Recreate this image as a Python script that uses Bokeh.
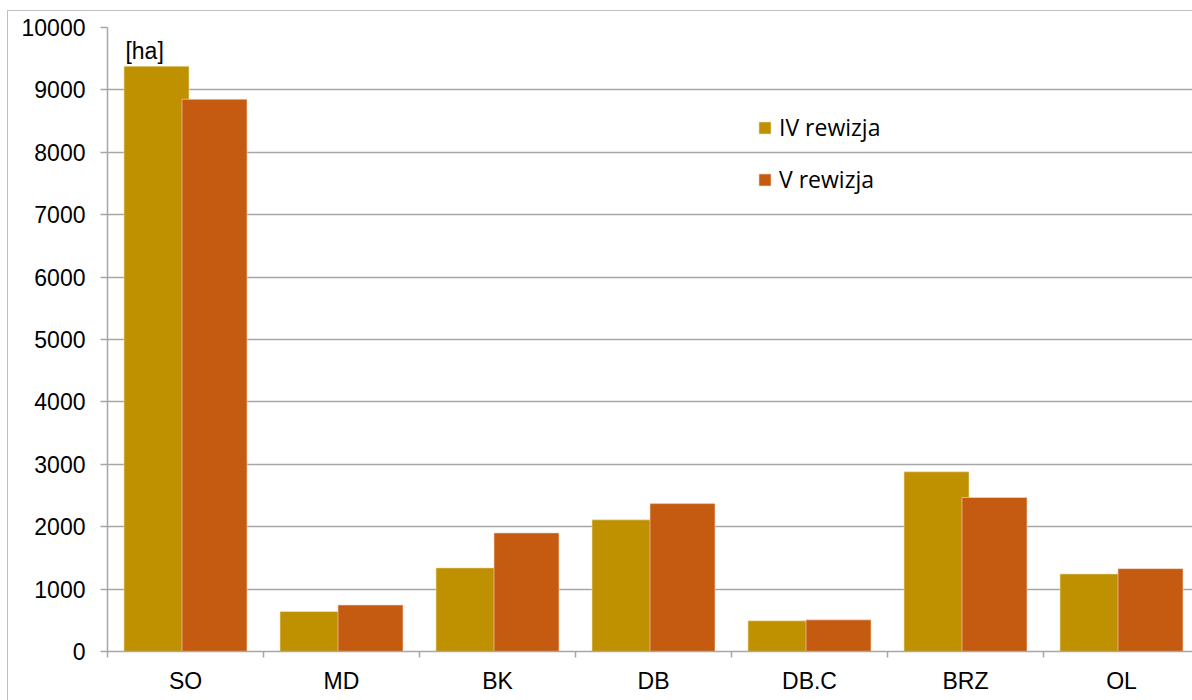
from bokeh.plotting import figure
from bokeh.models import (ColumnDataSource, FixedTicker, Legend, LegendItem,
                          Label, Range1d)
from bokeh.embed import file_html
from bokeh.resources import INLINE
from bokeh.transform import dodge

categories = ["SO", "MD", "BK", "DB", "DB.C", "BRZ", "OL"]
rewizja_iv = [9380, 640, 1340, 2110, 492, 2880, 1243]
rewizja_v = [8850, 745, 1900, 2370, 507, 2468, 1328]
y_ticks = [0, 1000, 2000, 3000, 4000, 5000, 6000, 7000, 8000, 9000, 10000]
series_names = ["IV rewizja", "V rewizja"]
unit_label = "[ha]"

GOLD = "#BF9000"
ORANGE = "#C55A11"
GRID = "#a6a6a6"

centers = [i + 0.5 for i in range(len(categories))]
bounds = [float(i) for i in range(len(categories) + 1)]

src = ColumnDataSource(dict(x=centers, iv=rewizja_iv, v=rewizja_v))

p = figure(width=1192, height=700, output_backend="svg", toolbar_location=None,
           x_range=Range1d(0, 1085 / 156), y_range=Range1d(0, 10000),
           min_border_left=107, min_border_right=0, min_border_top=27,
           min_border_bottom=49, outline_line_color=None,
           background_fill_alpha=0, border_fill_alpha=0)

# outer chart border drawn as CSS background lines behind the transparent canvas
p.styles = {
    "background-color": "white",
    "background-image": "linear-gradient(#bfbfbf, #bfbfbf), linear-gradient(#bfbfbf, #bfbfbf)",
    "background-size": "1px 100%, 100% 1px",
    "background-position": "7px 10px, 7px 10px",
    "background-repeat": "no-repeat",
}

bw = 65 / 156
off = 29 / 156
r1 = p.vbar(x=dodge("x", -off), top="iv", width=bw, source=src,
            fill_color=GOLD, line_color="#f2e2c0", line_width=0.6)
r2 = p.vbar(x=dodge("x", off), top="v", width=bw, source=src,
            fill_color=ORANGE, line_color="#f5d9c8", line_width=0.6)

# axes
xa = p.xaxis[0]
xa.ticker = FixedTicker(ticks=centers, minor_ticks=bounds)
xa.major_label_overrides = {c: lab for c, lab in zip(centers, categories)}
xa.major_tick_line_color = None
xa.minor_tick_line_color = GRID
xa.minor_tick_line_width = 1.5
xa.minor_tick_out = 6
xa.minor_tick_in = 0
xa.axis_line_color = GRID
xa.axis_line_width = 1.5
xa.major_label_text_font = "Liberation Sans"
xa.major_label_text_font_size = "23px"
xa.major_label_text_color = "black"
xa.major_label_standoff = 10

ya = p.yaxis[0]
ya.ticker = FixedTicker(ticks=y_ticks)
ya.major_tick_line_color = GRID
ya.major_tick_line_width = 1.5
ya.major_tick_out = 7
ya.major_tick_in = 0
ya.minor_tick_line_color = None
ya.axis_line_color = GRID
ya.axis_line_width = 1.5
ya.major_label_text_font = "Liberation Sans"
ya.major_label_text_font_size = "23px"
ya.major_label_text_color = "black"
ya.major_label_standoff = 15

p.xgrid.visible = False
p.ygrid.ticker = FixedTicker(ticks=y_ticks)
p.ygrid.grid_line_color = GRID
p.ygrid.grid_line_width = 1.5

p.add_layout(Label(x=0.115, y=9630, text=unit_label, text_font="Liberation Sans",
                   text_font_size="23px", text_color="black",
                   text_baseline="alphabetic"))

legend = Legend(items=[LegendItem(label=series_names[0], renderers=[r1]),
                       LegendItem(label=series_names[1], renderers=[r2])],
                location=(650, 456), glyph_width=15, glyph_height=15,
                label_text_font="Open Sans", label_text_font_size="23px",
                label_text_color="black",
                label_standoff=7, spacing=20, padding=0, margin=0,
                label_height=20, border_line_color=None,
                background_fill_alpha=0)
p.add_layout(legend)

open("out.html", "w").write(file_html(p, INLINE))
